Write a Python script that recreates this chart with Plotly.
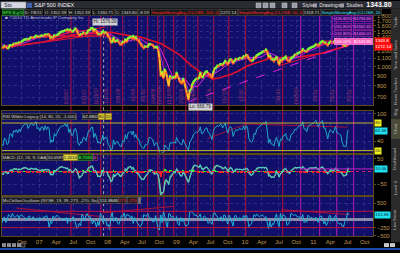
import plotly.graph_objects as go
import pandas as pd
import numpy as np

W, H = 400, 253

# ---------------- DATA ----------------
# S&P 500 weekly closes (Fridays), Jan 2006 .. 8 Jul 2011
close_2006 = [1285, 1288, 1261, 1284, 1264, 1267, 1287, 1289, 1287, 1282, 1307, 1302, 1295,
              1297, 1289, 1311, 1311, 1326, 1291, 1267, 1281, 1288, 1253, 1252, 1245, 1270,
              1265, 1236, 1240, 1278, 1280, 1266, 1302, 1296, 1311, 1299, 1322, 1314, 1336,
              1350, 1366, 1369, 1377, 1364, 1380, 1401, 1400, 1396, 1409, 1428, 1410, 1418]
close_2007 = [1409, 1431, 1431, 1423, 1449, 1438, 1456, 1451, 1387, 1402, 1387, 1436, 1421,
              1443, 1453, 1485, 1495, 1505, 1505, 1522, 1515, 1537, 1507, 1533, 1503, 1503,
              1530, 1553, 1534, 1459, 1433, 1453, 1445, 1479, 1474, 1454, 1484, 1525, 1527,
              1557, 1562, 1501, 1536, 1510, 1453, 1458, 1441, 1481, 1504, 1468, 1485, 1478]
close_2008 = [1411, 1401, 1325, 1330, 1396, 1331, 1349, 1353, 1331, 1294, 1293, 1330, 1316,
              1370, 1332, 1390, 1398, 1413, 1388, 1425, 1375, 1400, 1361, 1360, 1318, 1278,
              1262, 1239, 1261, 1257, 1260, 1296, 1298, 1292, 1283, 1242, 1252, 1255, 1213,
              1099, 899, 940, 877, 968, 930, 873, 800, 896, 876, 879, 888, 873]
close_2009 = [931, 890, 850, 832, 826, 869, 827, 770, 735, 683, 756, 768, 816,
              843, 857, 869, 866, 877, 929, 883, 887, 919, 940, 946, 921, 918,
              896, 879, 940, 979, 987, 1010, 1005, 1026, 1029, 1016, 1042, 1068, 1044,
              1025, 1071, 1088, 1080, 1036, 1069, 1093, 1091, 1091, 1106, 1102, 1102, 1126]
close_2010 = [1115, 1145, 1137, 1092, 1074, 1066, 1075, 1109, 1105, 1139, 1150, 1160, 1167,
              1179, 1194, 1192, 1217, 1187, 1111, 1136, 1088, 1089, 1065, 1092, 1117, 1076,
              1022, 1078, 1065, 1102, 1102, 1122, 1080, 1071, 1065, 1105, 1110, 1125, 1148,
              1147, 1166, 1176, 1184, 1183, 1225, 1200, 1200, 1190, 1224, 1240, 1243, 1257, 1258]
close_2011 = [1272, 1293, 1283, 1276, 1311, 1329, 1343, 1320, 1321, 1304, 1279, 1314,
              1333, 1328, 1320, 1337, 1364, 1340, 1338, 1333, 1331, 1300, 1271, 1272, 1268, 1340,
              1344]

# NYSE McClellan Oscillator, weekly readings (late Jun 2006 .. 8 Jul 2011)
mco_values = [-120, 40,
              80, -90, -40, 150, 120, 60, 180, 90, 60, 110, 140, 30, 120,
              150, 90, 60, 40, -30, 80, 110, 20, 40, 90, -20, 10, 50,
              -40, 60, 10, 30, 90, 60, 120, 40, -260, -60, -120, 110, 40,
              80, 130, 90, 60, 20, -30, 40, -10, 60, -120, 30, -60, -40,
              80, 60, -90, -280, -230, -120, -190, 160, 90, -40, 130, 180, 70,
              90, 20, -140, -30, -80, -230, -60, -190, 180, 120, -90, 30, -20,
              -190, -160, -300, 80, 210, -60, 40, 60, -110, -150, -40, 120, 90,
              200, 40, 150, 130, 120, 30, 110, -120, 60, -30, -110, -150, -220,
              -180, -90, 150, 120, 90, 180, 60, 30, 50, -80, -60, 120, -150,
              -290, -320, 140, -90, 240, 80, -150, -260, 180, 170, 60, 110, 40, -20,
              90, -120, -180, 60, -60, 30, -130, -200, -180, -150, 240, 260, 200,
              180, 120, 140, 60, 90, 170, -40, 40, 110, 80, 30, -120, -60,
              -90, -150, 180, 210, 120, 100, -40, 60, 80, -60, 140, 120, -50,
              -140, 130, 60, -80, -200, 100, 130, 40, -20, 60, -30, 20, 120,
              60, 130, 40, -220, -160, -130, 30, 150, 90, 160, 120, 90, 110,
              150, 100, 60, 90, -100, -290, -50, -260, -120, -150, 60, 170, -110,
              -220, 190, -20, 150, 110, 80, -180, -140, -60, 190, 160, 120, 150,
              110, 80, 60, 90, 30, 150, -100, -60, -80, 130, 90, 40, 60, 20,
              30, 70, -60, -90, 90, 110, 40, -130, -60, -180, -90, 110,
              120, -40, -50, 90, 130, -60, -120, -140, -110, -200, -230, -60, -20, 210,
              152]

# x-axis tick labels
x_tick_dates = ['2006-10-01', '2007-01-01', '2007-04-01', '2007-07-01', '2007-10-01',
                '2008-01-01', '2008-04-01', '2008-07-01', '2008-10-01', '2009-01-01',
                '2009-04-01', '2009-07-01', '2009-10-01', '2010-01-01', '2010-04-01',
                '2010-07-01', '2010-10-01', '2011-01-01', '2011-04-01', '2011-07-01',
                '2011-10-01']
x_tick_text = ['Oct', '07', 'Apr', 'Jul', 'Oct', '08', 'Apr', 'Jul', 'Oct', '09', 'Apr',
               'Jul', 'Oct', '10', 'Apr', 'Jul', 'Oct', '11', 'Apr', 'Jul', 'Oct']
price_ticks = [700, 800, 900, 1000, 1100, 1200, 1400, 1500, 1600, 1700, 1800]
price_tick_text = ['700', '800', '900', '1,000', '1,100', '1,200', '1,400',
                   '1,500', '1,600', '1,700', '1,800']
rsi_ticks = [40, 100]
macd_ticks = [-50, 50]
mco_ticks = [-500, -250, 500]

# event (vertical) lines
red_event_dates = ['2007-06-19', '2007-09-23', '2007-11-25', '2008-01-17', '2008-03-21',
                   '2008-06-08', '2008-08-01', '2008-09-24', '2008-10-26', '2008-12-18',
                   '2009-02-20', '2009-04-25', '2009-07-19', '2009-10-07', '2010-01-05',
                   '2010-07-21']
magenta_event_dates = ['2010-10-25', '2011-02-03', '2011-05-05', '2011-08-03']
event_labels = ['6/19/07', '9/21/07', '11/26/07', '1/17/08', '3/21/08', '6/6/08', '8/1/08',
                '9/24/08', '10/27/08', '12/18/08', '2/20/09', '4/24/09', '7/17/09',
                '10/7/09', '1/5/10', '7/21/10', '10/25/10', '2/3/11', '5/5/11', '8/3/11']
cursor_date = '2007-12-10'

# trend lines (date, value) pairs
main_red_trends = [(('2007-02-01', 1410), ('2007-12-20', 1580)),
                   (('2007-02-01', 1410), ('2007-12-20', 1490)),
                   (('2007-02-01', 1410), ('2008-01-20', 1425)),
                   (('2006-06-20', 1240), ('2008-01-01', 1470)),
                   (('2010-07-01', 1010), ('2011-07-20', 1295)),
                   (('2011-01-01', 1262), ('2011-08-01', 1370)),
                   (('2011-02-15', 1345), ('2011-08-01', 1345))]
main_mag_trend = (('2009-03-06', 666), ('2011-11-15', 1420))
rsi_trends = [(('2009-06-15', 46), ('2010-01-10', 78)),
              (('2010-01-10', 78), ('2011-07-01', 71))]
mco_trends = [(('2006-09-01', 350), ('2007-11-25', 90)),
              (('2007-12-01', 200), ('2008-12-15', 400)),
              (('2010-07-15', 300), ('2011-07-08', 150))]

fib_levels = [('426.80%', '$1794.80'), ('261.80%', '$1562.82'), ('161.80%', '$1466.01')]

# ---------------- DERIVED ----------------
close = close_2006 + close_2007 + close_2008 + close_2009 + close_2010 + close_2011
dates = pd.date_range(end='2011-07-08', periods=len(close), freq='W-FRI')
s = pd.Series(close, index=dates, dtype=float)
sma200 = s.rolling(40).mean()
sma50 = s.rolling(10).mean()
sma20 = s.rolling(4).mean()

d = s.diff()
n = 7
up = d.clip(lower=0).ewm(alpha=1 / n, adjust=False).mean()
dn = (-d.clip(upper=0)).ewm(alpha=1 / n, adjust=False).mean()
rsi = 100 - 100 / (1 + up / dn)

macd = s.ewm(span=2.4, adjust=False).mean() - s.ewm(span=5.2, adjust=False).mean()
sig = macd.ewm(span=1.8, adjust=False).mean()
hist = macd - sig

mco_dates = pd.date_range(end='2011-07-08', periods=len(mco_values), freq='W-FRI')

# ---------------- LAYOUT HELPERS ----------------
def PX(p):
    return p / W


def PY(p):
    return 1 - p / H


XL, XR = PX(2), PX(373)
dom_main = [PY(106), PY(13)]
dom_rsi = [PY(154), PY(112)]
dom_macd = [PY(197), PY(156)]
dom_mco = [PY(239), PY(199)]

FONT = 'Liberation Sans'
TICKC = '#c09a52'
BG = '#10106a'
GRID = '#2c2c86'
FRAME = '#5c4a1c'

fig = go.Figure()

# ---- main price panel ----
fig.add_trace(go.Scatter(x=dates, y=sma200, mode='lines', line=dict(color='#e0102c', width=1.6),
                         xaxis='x', yaxis='y'))
fig.add_trace(go.Scatter(x=dates, y=sma50, mode='lines', line=dict(color='#e020e0', width=1),
                         xaxis='x', yaxis='y'))
fig.add_trace(go.Scatter(x=dates, y=sma20, mode='lines', line=dict(color='#9040ff', width=0.8),
                         xaxis='x', yaxis='y'))
for (a, b) in main_red_trends:
    fig.add_trace(go.Scatter(x=[a[0], b[0]], y=[a[1], b[1]], mode='lines',
                             line=dict(color='#e0103a', width=1), xaxis='x', yaxis='y'))
fig.add_trace(go.Scatter(x=[main_mag_trend[0][0], main_mag_trend[1][0]],
                         y=[main_mag_trend[0][1], main_mag_trend[1][1]], mode='lines',
                         line=dict(color='#e020e0', width=1, dash='dash'), xaxis='x', yaxis='y'))
fig.add_trace(go.Scatter(x=dates, y=s, mode='lines', line=dict(color='#ff9a10', width=2.2),
                         xaxis='x', yaxis='y'))
chg = s.diff().fillna(0)
pcol = np.where(chg >= 0, '#40ff40', '#ff3030')
fig.add_trace(go.Scatter(x=dates, y=s, mode='markers',
                         marker=dict(color=pcol, size=2.4, line=dict(width=0)),
                         xaxis='x', yaxis='y'))
fig.add_trace(go.Scatter(x=dates, y=s, mode='lines', line=dict(color='#f0f040', width=0.6),
                         xaxis='x', yaxis='y'))

# ---- RSI ----
for (a, b) in rsi_trends:
    fig.add_trace(go.Scatter(x=[a[0], b[0]], y=[a[1], b[1]], mode='lines',
                             line=dict(color='#a0103c', width=1), xaxis='x2', yaxis='y2'))
fig.add_trace(go.Scatter(x=dates, y=rsi, mode='lines', line=dict(color='#20a8c8', width=1),
                         xaxis='x2', yaxis='y2'))

# ---- MACD ----
fig.add_trace(go.Bar(x=dates, y=hist, marker=dict(color=np.where(hist >= 0, '#20ff20', '#ff2020'),
                                                  line=dict(width=0)),
                     width=5 * 86400000, xaxis='x3', yaxis='y3'))
fig.add_trace(go.Scatter(x=dates, y=sig, mode='lines', line=dict(color='#d8d850', width=0.8),
                         xaxis='x3', yaxis='y3'))
fig.add_trace(go.Scatter(x=dates, y=macd, mode='lines', line=dict(color='#50c8c0', width=1.2),
                         xaxis='x3', yaxis='y3'))

# ---- McClellan ----
for (a, b) in mco_trends:
    fig.add_trace(go.Scatter(x=[a[0], b[0]], y=[a[1], b[1]], mode='lines',
                             line=dict(color='#b0103c', width=1), xaxis='x4', yaxis='y4'))
fig.add_trace(go.Scatter(x=mco_dates, y=mco_values, mode='lines',
                         line=dict(color='#20b4d8', width=1), xaxis='x4', yaxis='y4'))

shapes = []
annotations = []

# vertical event lines
for dt in red_event_dates:
    shapes.append(dict(type='line', xref='x', yref='paper', x0=dt, x1=dt, y0=PY(239), y1=PY(13),
                       line=dict(color='#b80c3c', width=1), layer='below'))
for dt in magenta_event_dates:
    shapes.append(dict(type='line', xref='x', yref='paper', x0=dt, x1=dt, y0=PY(239), y1=PY(13),
                       line=dict(color='#b81cb8', width=1), layer='below'))
shapes.append(dict(type='line', xref='x', yref='paper', x0=cursor_date, x1=cursor_date,
                   y0=PY(239), y1=PY(13), line=dict(color='#a0a0b0', width=1, dash='dot'),
                   layer='below'))
for dt, lab in zip(red_event_dates + magenta_event_dates, event_labels):
    annotations.append(dict(x=dt, y=PY(96), xref='x', yref='paper', text=lab, showarrow=False,
                            textangle=-90, xanchor='right', yanchor='middle', xshift=0,
                            font=dict(size=4.5, color='#a0306a', family=FONT)))

# horizontal ref lines
for v in (80, 20):
    shapes.append(dict(type='line', xref='paper', yref='y2', x0=XL, x1=XR, y0=v, y1=v,
                       line=dict(color='#c8b428', width=1)))
shapes.append(dict(type='line', xref='paper', yref='y3', x0=XL, x1=XR, y0=0, y1=0,
                   line=dict(color='#d02060', width=1, dash='dot')))
shapes.append(dict(type='line', xref='paper', yref='y3', x0=PX(300), x1=XR, y0=10.06, y1=10.06,
                   line=dict(color='#c020c0', width=1)))
shapes.append(dict(type='line', xref='paper', yref='y4', x0=XL, x1=XR, y0=0, y1=0,
                   line=dict(color='#8888a8', width=3), layer='below'))
for v in (250, -250):
    shapes.append(dict(type='line', xref='paper', yref='y4', x0=XL, x1=XR, y0=v, y1=v,
                       line=dict(color='#c0103c', width=1)))

# fib bracket lines at top right
FIB_Y = [17.5, 25.5, 33.5]
for yy in FIB_Y:
    shapes.append(dict(type='line', xref='paper', yref='paper', x0=PX(332), x1=XR,
                       y0=PY(yy), y1=PY(yy), line=dict(color='#c020c0', width=1)))
shapes.append(dict(type='line', xref='paper', yref='paper', x0=PX(332), x1=PX(332),
                   y0=PY(45), y1=PY(15)), )
shapes[-1]['line'] = dict(color='#c020c0', width=1)


def ann(x, y, text, size=4.3, color='#c8c8c8', bg=None, border=None, xanchor='left',
        angle=0, pad=0.3):
    a = dict(x=PX(x), y=PY(y), xref='paper', yref='paper', text=text, showarrow=False,
             xanchor=xanchor, yanchor='middle', textangle=angle, borderpad=pad,
             font=dict(size=size, color=color, family=FONT))
    if bg:
        a['bgcolor'] = bg
    if border:
        a['bordercolor'] = border
        a['borderwidth'] = 0.5
    annotations.append(a)


# top toolbar
shapes.append(dict(type='rect', xref='paper', yref='paper', x0=0, x1=1, y0=PY(8), y1=1,
                   fillcolor='#2a2b33', line=dict(width=0), layer='below'))
shapes.append(dict(type='rect', xref='paper', yref='paper', x0=PX(1), x1=PX(26), y0=PY(7.5),
                   y1=PY(1), fillcolor='#d4d6e2', line=dict(color='#8888a0', width=0.5)))
ann(2.5, 4.3, 'Sto', size=5, color='#202020')
shapes.append(dict(type='rect', xref='paper', yref='paper', x0=PX(27), x1=PX(32), y0=PY(7),
                   y1=PY(2), fillcolor='#4060b0', line=dict(width=0)))
ann(33, 4.3, 'S&P 500 INDEX', size=5.5, color='#f0f0f0')
for xi in (256, 263, 270, 282, 292):
    shapes.append(dict(type='rect', xref='paper', yref='paper', x0=PX(xi), x1=PX(xi + 5),
                       y0=PY(7), y1=PY(2), fillcolor='#9a9aa6', line=dict(color='#ddd', width=0.4)))
ann(301, 4.3, 'Style', size=5, color='#e0e0e0')
shapes.append(dict(type='rect', xref='paper', yref='paper', x0=PX(313), x1=PX(317), y0=PY(6.5),
                   y1=PY(2.5), fillcolor='#9a9aa6', line=dict(width=0)))
ann(318, 4.3, 'Drawings', size=5, color='#e0e0e0')
shapes.append(dict(type='rect', xref='paper', yref='paper', x0=PX(340), x1=PX(344), y0=PY(6.5),
                   y1=PY(2.5), fillcolor='#9a9aa6', line=dict(width=0)))
ann(345, 4.3, 'Studies', size=5, color='#e0e0e0')
ann(365, 4.3, '<b>1343.80</b>', size=7, color='#ffffff')

# info row
shapes.append(dict(type='rect', xref='paper', yref='paper', x0=0, x1=XR, y0=PY(14.5), y1=PY(8),
                   fillcolor='#000000', line=dict(width=0)))
IB, IBD, IT = '#1a1a1a', '#505050', '#d8d8d8'
ann(1.5, 11.3, 'SPX S-y D', color='#50ff50', bg='#0b3a12', border='#40a040')
info = [(24, 'D: 7/8/11'), (44, 'O: 1352.39'), (68, 'H: 1352.39'), (92, 'L: 1330.71'),
        (115, 'C: 1343.80'), (138, '-8.59')]
for xi, t in info:
    ann(xi, 11.3, t, color=IT, bg=IB, border=IBD)
ann(151, 11.3, 'SimpleMovingAvg (CLOSE, 200, 0)', color='#ff2020', bg=IB, border=IBD)
ann(220, 11.3, '1272.14', color=IT, bg=IB, border=IBD)
ann(238, 11.3, 'SimpleMovingAvg (CLOSE, 50, 0)', color='#ff2040', bg=IB, border=IBD)
ann(303, 11.3, '1318.71', color=IT, bg=IB, border=IBD)
ann(321, 11.3, 'SimpleMovingAvg (CLOSE, 20', color='#30e0ff', bg=IB, border=IBD)
ann(4, 17.5, '\u25a0 \u00a92010 TD Ameritrade IP Company Inc', size=4.4, color='#c0c0c0')

# fib labels
for (pct, price), yy in zip(fib_levels, FIB_Y):
    ann(334, yy, pct, size=4.2, color='#ff70ff', bg='#30106a', border='#c020c0')
    ann(353, yy, price, size=4.2, color='#ff70ff', bg='#30106a', border='#c020c0')
ann(334, 41, '100.00%  $1343.80', size=4.2, color='#ffffff', bg='#ff60c0', border='#ffa0e0')

# hi / lo labels
annotations.append(dict(x='2007-10-11', y=np.log10(1576.09), xref='x', yref='y',
                        text='Hi: 1576.09', showarrow=False, xanchor='left', yanchor='bottom',
                        yshift=1, bgcolor='#d0d0d4', borderpad=0.4,
                        font=dict(size=4.5, color='#202020', family=FONT)))
annotations.append(dict(x='2009-03-06', y=np.log10(666.79), xref='x', yref='y',
                        text='Lo: 666.79', showarrow=False, xanchor='left', yanchor='top',
                        yshift=-1, bgcolor='#d0d0d4', borderpad=0.4,
                        font=dict(size=4.5, color='#202020', family=FONT)))

# panel titles
TB, TBD, TT = '#1c1c24', '#606060', '#d0d0d0'
ann(2, 117, 'RSI Wilder Legacy (14, 80, 20, -1.000)', color=TT, bg=TB, border=TBD)
ann(82, 117, '62.4802', color='#e0e0e0', bg=TB, border=TBD)
ann(98, 117, '80', color='#202020', bg='#d8c830', border='#806010')
ann(105, 117, '20', color='#202020', bg='#d8c830', border='#806010')

ann(2, 159.5, 'MACD (12, 26, 9, DAA)', color=TT, bg=TB, border=TBD)
ann(47, 159.5, '10.0597', color='#e0e0e0', bg=TB, border=TBD)
ann(63, 159.5, '1.2014', color='#202020', bg='#d8d040', border='#806010')
ann(78, 159.5, '8.7583', color='#40ff40', bg='#0b3a12', border='#40a040')
ann(93, 159.5, '0', color='#ff60ff', bg=TB, border='#c020c0')

ann(2, 203, 'McClellanOscillator (NYSE, 19, 39, 273, -270, No)', color=TT, bg=TB, border=TBD)
ann(99, 203, '151.8848', color='#e0e0e0', bg=TB, border=TBD)
ann(118, 203, '273', color='#ff3030', bg=TB, border=TBD)
ann(127, 203, '-270', color='#ff3030', bg=TB, border=TBD)
ann(138, 203, ' ', color='#e0e0e0', bg='#808080', border=TBD)


# right axis value boxes (data-referenced)
def vbox(yref, yval, text, bg, fg, yshift=0):
    annotations.append(dict(x=PX(374), y=yval, xref='paper', yref=yref, text=text,
                            showarrow=False, xanchor='left', yanchor='middle', bgcolor=bg,
                            borderpad=0.3, yshift=yshift,
                            font=dict(size=4.4, color=fg, family=FONT)))


vbox('y', np.log10(1343.80), '1343.8', '#ff1010', '#ffffff', yshift=0.5)
vbox('y', np.log10(1272.14), '1272.14', '#ff1010', '#ffffff', yshift=-1.2)
vbox('y2', 80, '80', '#f0f020', '#202020')
vbox('y2', 62.48, '62.48', '#20e0f0', '#102030')
vbox('y2', 20, '20', '#f0f020', '#202020')
vbox('y3', 10.06, '10.06', '#20e0f0', '#102030')
vbox('y4', 151.88, '151.88', '#20e0f0', '#102030')

# right tab strip
shapes.append(dict(type='rect', xref='paper', yref='paper', x0=PX(391), x1=1, y0=PY(245),
                   y1=PY(8), fillcolor='#2a2a2a', line=dict(width=0)))
shapes.append(dict(type='rect', xref='paper', yref='paper', x0=PX(391), x1=1, y0=PY(140),
                   y1=PY(120), fillcolor='#4a4a3a', line=dict(width=0)))
for yy, t in [(22, 'Trade'), (55, 'Time and Sales'), (92, 'News Tracker'), (113, 'Big'),
              (130, 'Chart'), (160, 'Dashboard'), (190, 'Level II'), (222, 'Live News')]:
    ann(395.5, yy, t, size=4.4, color='#b8b8b8', xanchor='center', angle=-90)

# bottom bar
shapes.append(dict(type='rect', xref='paper', yref='paper', x0=0, x1=1, y0=PY(253),
                   y1=PY(251), fillcolor='#1848b0', line=dict(width=0)))
for xi in (2, 7, 12, 17):
    shapes.append(dict(type='rect', xref='paper', yref='paper', x0=PX(xi), x1=PX(xi + 4),
                       y0=PY(250), y1=PY(246), fillcolor='#8a8a90', line=dict(width=0)))
shapes.append(dict(type='rect', xref='paper', yref='paper', x0=PX(21), x1=PX(25), y0=PY(250),
                   y1=PY(246), fillcolor='#202020', line=dict(color='#aaa', width=0.5)))
for xi in (384, 390):
    shapes.append(dict(type='rect', xref='paper', yref='paper', x0=PX(xi), x1=PX(xi + 5),
                       y0=PY(250), y1=PY(246), fillcolor='#c8c8c8', line=dict(width=0)))

xrange = ['2006-06-17', '2011-11-14']
xcommon = dict(range=xrange, type='date', tickvals=x_tick_dates, ticktext=x_tick_text,
               showgrid=True, gridcolor=GRID, griddash='dot', gridwidth=1,
               showline=True, linecolor=FRAME, mirror=True, zeroline=False,
               domain=[XL, XR], tickfont=dict(size=6, color=TICKC, family=FONT),
               ticks='', fixedrange=True)
ycommon = dict(side='right', showgrid=True, gridcolor=GRID, griddash='dot', gridwidth=1,
               showline=True, linecolor=FRAME, mirror=True, zeroline=False, ticks='outside',
               ticklen=2, tickcolor=FRAME, tickfont=dict(size=5.6, color=TICKC, family=FONT))

fig.update_layout(
    width=W, height=H, margin=dict(l=0, r=0, t=0, b=0), autosize=False,
    paper_bgcolor='#000000', plot_bgcolor=BG, showlegend=False, bargap=0,
    xaxis=dict(xcommon, anchor='y', showticklabels=False),
    xaxis2=dict(xcommon, anchor='y2', matches='x', showticklabels=False),
    xaxis3=dict(xcommon, anchor='y3', matches='x', showticklabels=False),
    xaxis4=dict(xcommon, anchor='y4', matches='x', showticklabels=True),
    yaxis=dict(ycommon, anchor='x', domain=dom_main, type='log',
               range=[np.log10(639), np.log10(1842)], tickvals=price_ticks,
               ticktext=price_tick_text),
    yaxis2=dict(ycommon, anchor='x2', domain=dom_rsi, range=[15.7, 105.7],
                tickvals=rsi_ticks),
    yaxis3=dict(ycommon, anchor='x3', domain=dom_macd, range=[-91, 66],
                tickvals=macd_ticks),
    yaxis4=dict(ycommon, anchor='x4', domain=dom_mco, range=[-512, 692],
                tickvals=mco_ticks),
    shapes=shapes, annotations=annotations,
)

fig.write_html('out.html')
